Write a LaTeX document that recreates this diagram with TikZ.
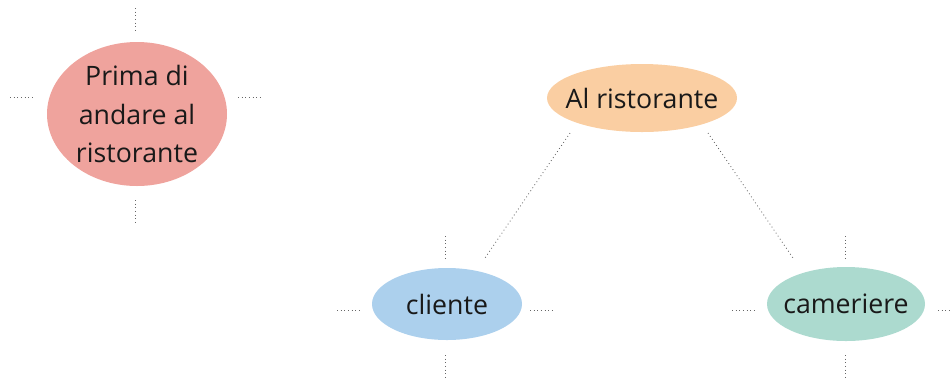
\documentclass[tikz,border=0pt]{standalone}
\usepackage{fontspec}
\setsansfont{Open Sans}
\definecolor{bubblered}{RGB}{239,163,157}
\definecolor{bubbleorange}{RGB}{250,206,162}
\definecolor{bubbleblue}{RGB}{172,208,237}
\definecolor{bubbleteal}{RGB}{172,218,207}
\tikzset{
	bubble/.style={inner sep=0pt, text=black!90, align=center,
		font=\sffamily\fontsize{19}{27.5}\selectfont},
	tick/.style={dotted, line width=0.6pt, color=black!60},
	link/.style={dotted, line width=0.6pt, color=black!60}
}

\begin{document}
\begin{tikzpicture}[x=0.025cm, y=-0.025cm]
		%%%%% START %%%%%
		\useasboundingbox (0, 0) rectangle (952, 378);
		
		\fill[bubblered] (137, 114) ellipse [x radius=90, y radius=72];
		\node[bubble] (prima) at (137, 114) {Prima di\\andare al\\ristorante};
		\draw[tick] (135, 8) -- (135, 30);
		\draw[tick] (135, 200) -- (135, 223);
		\draw[tick] (10, 97) -- (34, 97);
		\draw[tick] (238, 97) -- (261, 97);
		
		\fill[bubbleorange] (642, 98) ellipse [x radius=95, y radius=34];
		\node[bubble] (ristorante) at (642, 98) {Al ristorante};
		
		\fill[bubbleblue] (447, 304) ellipse [x radius=75, y radius=36];
		\node[bubble] (cliente) at (447, 304) {cliente};
		\draw[tick] (445, 236) -- (445, 258);
		\draw[tick] (445, 355) -- (445, 378);
		\draw[tick] (337, 310) -- (361, 310);
		\draw[tick] (530, 310) -- (553, 310);
		
		\fill[bubbleteal] (846, 304) ellipse [x radius=79, y radius=37];
		\node[bubble] (cameriere) at (846, 304) {cameriere};
		\draw[tick] (845, 236) -- (845, 258);
		\draw[tick] (845, 355) -- (845, 378);
		\draw[tick] (732, 310) -- (756, 310);
		\draw[tick] (938, 310) -- (960, 310);
		
		\coordinate (ristorante-sw) at ([shift={(-72, 35)}]ristorante.center);
		\coordinate (ristorante-se) at ([shift={(66, 35)}]ristorante.center);
		\coordinate (cliente-ne) at ([shift={(38, -46)}]cliente.center);
		\coordinate (cameriere-nw) at ([shift={(-53, -46)}]cameriere.center);
		\draw[link] (ristorante-sw) -- (cliente-ne);
		\draw[link] (ristorante-se) -- (cameriere-nw);
		
		%%%%% END %%%%%
	\end{tikzpicture}
\end{document}
